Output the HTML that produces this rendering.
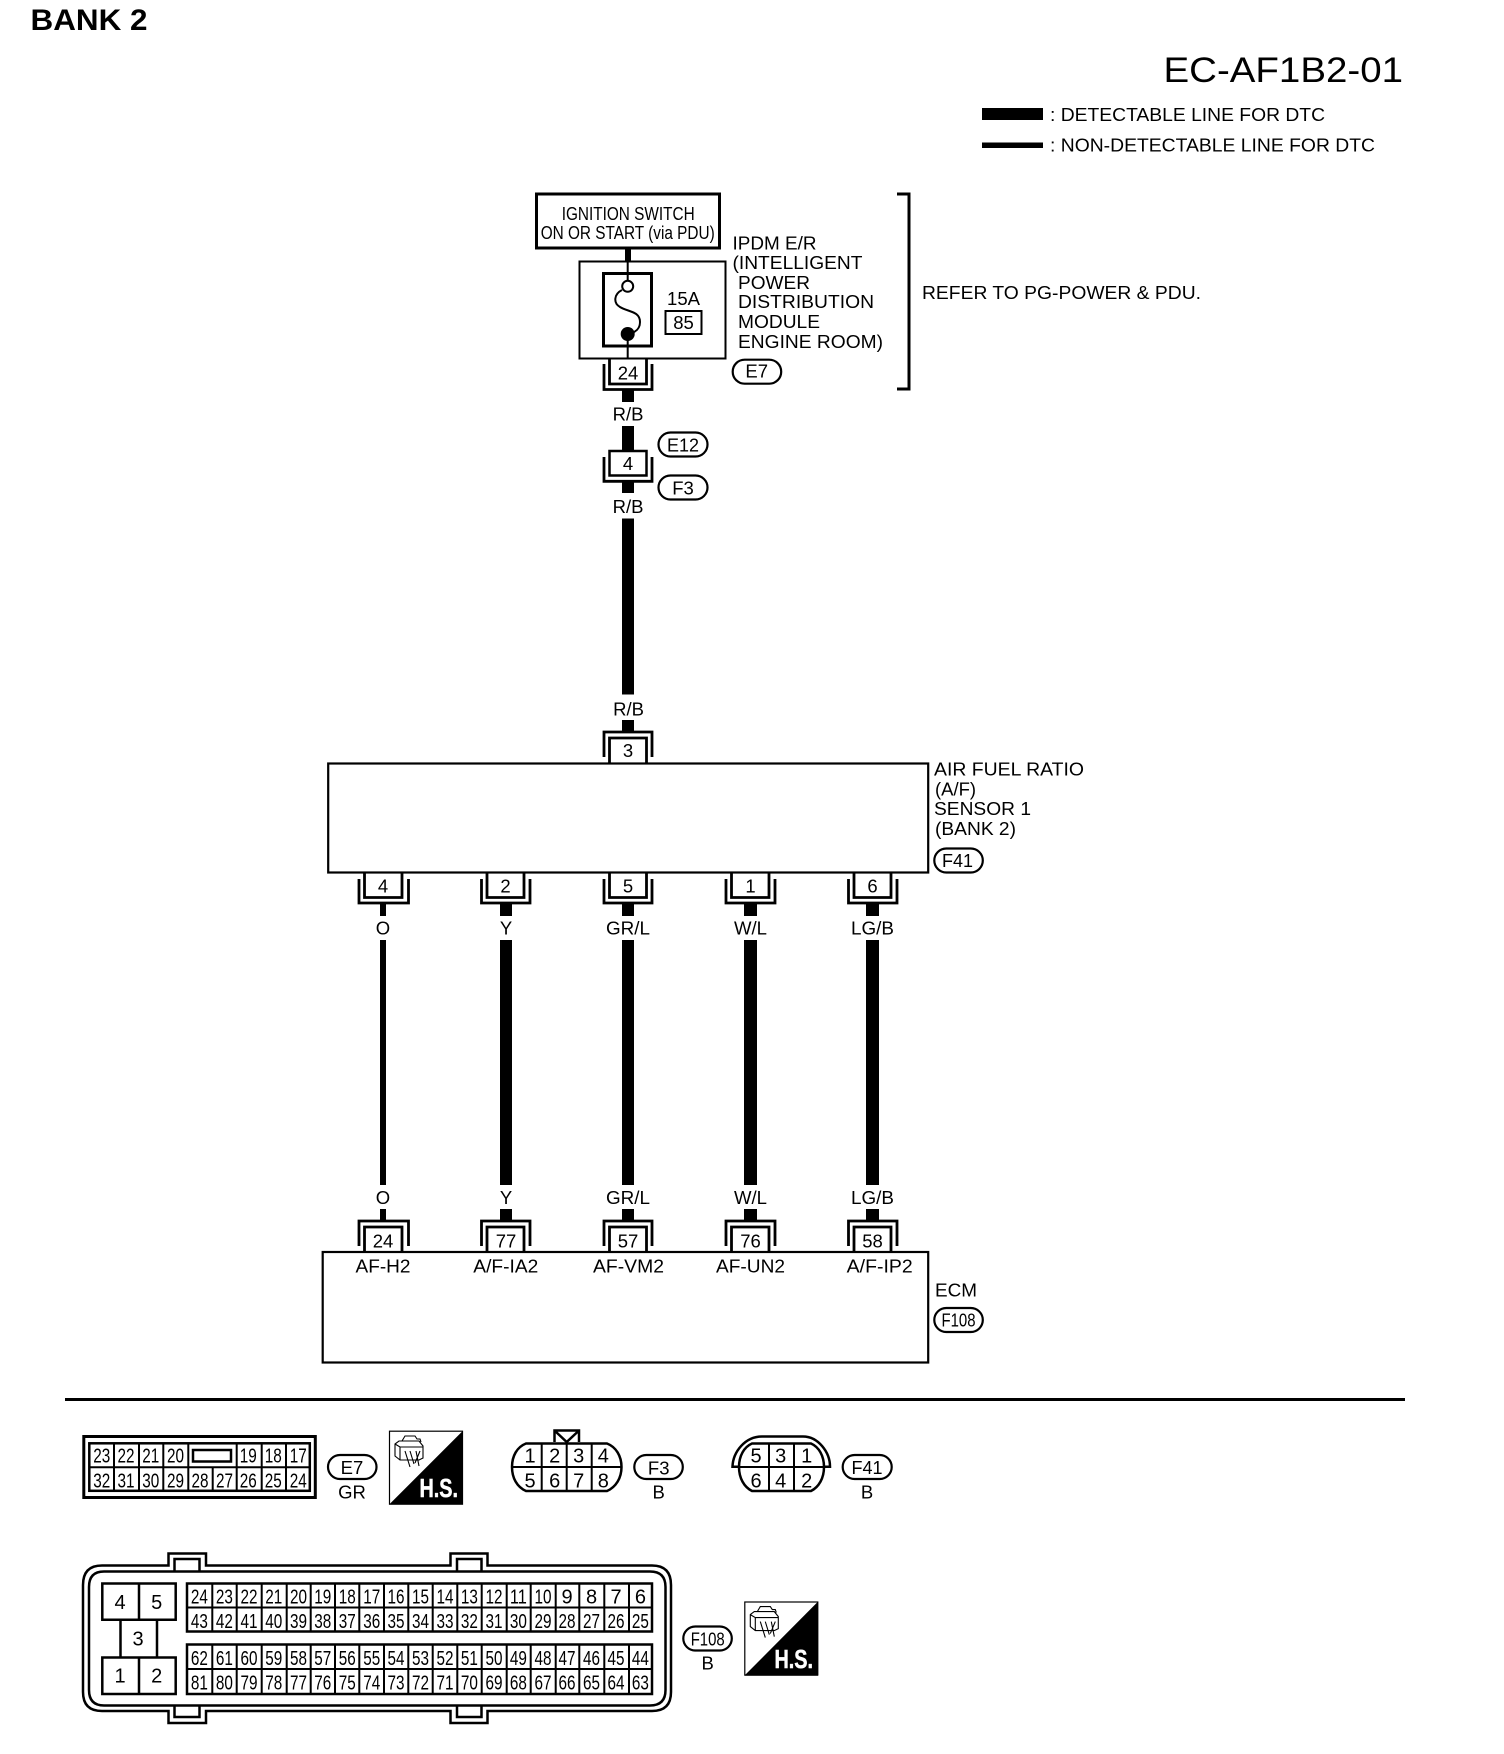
<!DOCTYPE html>
<html><head><meta charset="utf-8"><title>EC-AF1B2-01</title>
<style>
html,body{margin:0;padding:0;background:#fff}
svg{display:block}
text{font-family:"Liberation Sans",sans-serif;fill:#000;font-size:18.5px}
.m{text-anchor:middle}
.n text{font-size:20px;text-anchor:middle}
.l{fill:none;stroke:#000;stroke-width:2.5}
.c{fill:none;stroke:#000;stroke-width:2.8}
.t{fill:none;stroke:#000;stroke-width:2}
.p{fill:#fff;stroke:#000;stroke-width:2.2}
</style></head><body>
<svg xmlns="http://www.w3.org/2000/svg" width="1504" height="1754" viewBox="0 0 1504 1754">
<rect width="1504" height="1754" fill="#fff"/>
<text x="30.5" y="30" style="font-size:30px;font-weight:bold" textLength="117" lengthAdjust="spacingAndGlyphs">BANK 2</text>
<text x="1163.5" y="82" style="font-size:35px" textLength="239.5" lengthAdjust="spacingAndGlyphs">EC-AF1B2-01</text>
<rect x="982" y="108" width="61" height="12"/>
<rect x="982" y="142.5" width="61" height="5.5"/>
<text x="1050" y="121" textLength="275" lengthAdjust="spacingAndGlyphs">: DETECTABLE LINE FOR DTC</text>
<text x="1050" y="151.5" textLength="325" lengthAdjust="spacingAndGlyphs">: NON-DETECTABLE LINE FOR DTC</text>

<!-- top -->
<rect x="536.5" y="194" width="183" height="54" fill="#fff" stroke="#000" stroke-width="3"/>
<text x="561.7" y="220" textLength="133" lengthAdjust="spacingAndGlyphs">IGNITION SWITCH</text>
<text x="540.7" y="239" textLength="174" lengthAdjust="spacingAndGlyphs">ON OR START (via PDU)</text>
<rect x="625" y="249" width="6" height="12"/>
<rect x="579.5" y="261.5" width="146" height="97" class="t"/>
<rect x="603.5" y="273.5" width="48" height="72.5" class="l" style="stroke-width:3"/>
<path d="M627.7 261V281M627.7 334V359" class="t"/>
<circle cx="627.7" cy="286.3" r="5.5" fill="#fff" stroke="#000" stroke-width="2"/>
<path d="M622 290C614 294 613 303 620 307C628 312 640 311 640 322C640 328 637 331 632 333" class="t"/>
<circle cx="627.7" cy="334" r="7"/>
<text x="667" y="305" textLength="33" lengthAdjust="spacingAndGlyphs">15A</text>
<rect x="665.5" y="311" width="36" height="23" class="t"/>
<text class="m" x="683.5" y="329">85</text>
<text x="732.5" y="249.3" textLength="84" lengthAdjust="spacingAndGlyphs">IPDM E/R</text>
<text x="732.5" y="269" textLength="130" lengthAdjust="spacingAndGlyphs">(INTELLIGENT</text>
<text x="738" y="289" textLength="72" lengthAdjust="spacingAndGlyphs">POWER</text>
<text x="738" y="308" textLength="136" lengthAdjust="spacingAndGlyphs">DISTRIBUTION</text>
<text x="738" y="328" textLength="82" lengthAdjust="spacingAndGlyphs">MODULE</text>
<text x="738" y="348" textLength="145" lengthAdjust="spacingAndGlyphs">ENGINE ROOM)</text>
<path d="M897 194H909V389H897" fill="none" stroke="#000" stroke-width="3"/>
<text x="922" y="299" textLength="279" lengthAdjust="spacingAndGlyphs">REFER TO PG-POWER &amp; PDU.</text>
<rect x="732.7" y="359.7" width="48.5" height="24" rx="12" class="p"/>
<text class="m" x="756.7" y="377.5">E7</text>

<path d="M609.5 359V384H646.5V359M604 364V389.5H652V364" class="c"/>
<text class="m" x="628" y="379.3">24</text>
<rect x="622" y="390" width="12" height="12"/>
<text class="m" x="628" y="420.7">R/B</text>
<rect x="622" y="426" width="12" height="24"/>
<rect x="609.5" y="451" width="37" height="24.5" class="l"/>
<path d="M604 457V481.3H652V457" class="c"/>
<text class="m" x="628" y="470">4</text>
<rect x="658.5" y="432.5" width="49" height="24" rx="12" class="p"/>
<text class="m" x="683" y="451.5" textLength="32" lengthAdjust="spacingAndGlyphs">E12</text>
<rect x="658.5" y="475.5" width="49" height="24" rx="12" class="p"/>
<text class="m" x="683" y="494.3">F3</text>
<rect x="622" y="482" width="12" height="11"/>
<text class="m" x="628" y="513">R/B</text>
<rect x="622" y="518.5" width="12" height="176"/>
<text class="m" x="628.5" y="715.7">R/B</text>
<rect x="622" y="720" width="12" height="11"/>

<!-- sensor -->
<rect x="328.2" y="763.5" width="600" height="109" class="t" style="stroke-width:2.2"/>
<path d="M604 757V732H652V757M609.5 763V738H646.5V763" class="c"/>
<text class="m" x="628" y="757">3</text>
<text x="934" y="775.7" textLength="150" lengthAdjust="spacingAndGlyphs">AIR FUEL RATIO</text>
<text x="935" y="795.7" textLength="41" lengthAdjust="spacingAndGlyphs">(A/F)</text>
<text x="934" y="815" textLength="97" lengthAdjust="spacingAndGlyphs">SENSOR 1</text>
<text x="935" y="835" textLength="81" lengthAdjust="spacingAndGlyphs">(BANK 2)</text>
<rect x="934.3" y="848.5" width="48.5" height="24" rx="12" class="p"/>
<text class="m" x="957.5" y="867" textLength="31" lengthAdjust="spacingAndGlyphs">F41</text>

<!-- connectors below sensor -->
<path d="M364.5 873V897.5H402V873M359 879V903H408.5V879" class="c"/>
<path d="M487 873V897.5H524V873M481.5 879V903H530V879" class="c"/>
<path d="M609.5 873V897.5H646.5V873M604 879V903H652V879" class="c"/>
<path d="M731.5 873V897.5H769V873M726 879V903H775V879" class="c"/>
<path d="M854 873V897.5H891V873M848.5 879V903H897V879" class="c"/>
<text class="m" x="383" y="892.7">4</text>
<text class="m" x="505.5" y="892.7">2</text>
<text class="m" x="628" y="892.7">5</text>
<text class="m" x="750.5" y="892.7">1</text>
<text class="m" x="872.5" y="892.7">6</text>

<rect x="380" y="904" width="6" height="12"/>
<rect x="380" y="940" width="6" height="245"/>
<rect x="380" y="1209" width="6" height="12"/>
<rect x="500" y="904" width="12" height="12"/>
<rect x="500" y="940" width="12" height="245"/>
<rect x="500" y="1209" width="12" height="12"/>
<rect x="622" y="904" width="12" height="12"/>
<rect x="622" y="940" width="12" height="245"/>
<rect x="622" y="1209" width="12" height="12"/>
<rect x="744" y="904" width="13" height="12"/>
<rect x="744" y="940" width="13" height="245"/>
<rect x="744" y="1209" width="13" height="12"/>
<rect x="866" y="904" width="13" height="12"/>
<rect x="866" y="940" width="13" height="245"/>
<rect x="866" y="1209" width="13" height="12"/>

<text class="m" x="383" y="934.3">O</text>
<text class="m" x="506" y="934.3">Y</text>
<text class="m" x="628" y="934.3" textLength="44" lengthAdjust="spacingAndGlyphs">GR/L</text>
<text class="m" x="750.5" y="934.3" textLength="33" lengthAdjust="spacingAndGlyphs">W/L</text>
<text class="m" x="872.5" y="934.3" textLength="43" lengthAdjust="spacingAndGlyphs">LG/B</text>
<text class="m" x="383" y="1204">O</text>
<text class="m" x="506" y="1204">Y</text>
<text class="m" x="628" y="1204" textLength="44" lengthAdjust="spacingAndGlyphs">GR/L</text>
<text class="m" x="750.5" y="1204" textLength="33" lengthAdjust="spacingAndGlyphs">W/L</text>
<text class="m" x="872.5" y="1204" textLength="43" lengthAdjust="spacingAndGlyphs">LG/B</text>

<!-- ECM -->
<path d="M359 1246V1221H408.5V1246M364.5 1251V1227H402V1251" class="c"/>
<path d="M481.5 1246V1221H530V1246M487 1251V1227H524V1251" class="c"/>
<path d="M604 1246V1221H652V1246M609.5 1251V1227H646.5V1251" class="c"/>
<path d="M726 1246V1221H775V1246M731.5 1251V1227H769V1251" class="c"/>
<path d="M848.5 1246V1221H897V1246M854 1251V1227H891V1251" class="c"/>
<rect x="322.7" y="1252" width="605.5" height="110.5" class="t" style="stroke-width:2.2"/>
<text class="m" x="383" y="1247.3">24</text>
<text class="m" x="506" y="1247.3">77</text>
<text class="m" x="628" y="1247.3">57</text>
<text class="m" x="750.5" y="1247.3">76</text>
<text class="m" x="872.5" y="1247.3">58</text>
<text x="355.5" y="1272.7" textLength="55" lengthAdjust="spacingAndGlyphs">AF-H2</text>
<text x="473.3" y="1272.7" textLength="65" lengthAdjust="spacingAndGlyphs">A/F-IA2</text>
<text x="593" y="1272.7" textLength="71" lengthAdjust="spacingAndGlyphs">AF-VM2</text>
<text x="716" y="1272.7" textLength="69" lengthAdjust="spacingAndGlyphs">AF-UN2</text>
<text x="846.7" y="1272.7" textLength="66" lengthAdjust="spacingAndGlyphs">A/F-IP2</text>
<text x="935" y="1296.7" textLength="42" lengthAdjust="spacingAndGlyphs">ECM</text>
<rect x="934.3" y="1308" width="48.5" height="24" rx="12" class="p"/>
<text class="m" x="958.5" y="1326.7" textLength="34" lengthAdjust="spacingAndGlyphs">F108</text>

<rect x="65" y="1398" width="1340" height="3"/>

<!-- E7 connector -->
<rect x="83.8" y="1436.5" width="231.5" height="61" class="l" style="stroke-width:3"/>
<rect x="89.3" y="1443.3" width="220.5" height="47.5" class="l"/>
<path d="M89 1467.3H310M114 1443V1491M139 1443V1491M163.3 1443V1491M188.3 1443V1491M212.7 1467V1491M236.7 1467V1491M236.7 1443V1467M261.7 1443V1491M286 1443V1491" class="t"/>
<rect x="193" y="1450" width="38" height="11.5" class="l"/>
<g class="n">
<text x="101.7" y="1462.7" textLength="17" lengthAdjust="spacingAndGlyphs">23</text>
<text x="126" y="1462.7" textLength="17" lengthAdjust="spacingAndGlyphs">22</text>
<text x="150.7" y="1462.7" textLength="17" lengthAdjust="spacingAndGlyphs">21</text>
<text x="175.5" y="1462.7" textLength="17" lengthAdjust="spacingAndGlyphs">20</text>
<text x="248.3" y="1462.7" textLength="17" lengthAdjust="spacingAndGlyphs">19</text>
<text x="273.3" y="1462.7" textLength="17" lengthAdjust="spacingAndGlyphs">18</text>
<text x="298.3" y="1462.7" textLength="17" lengthAdjust="spacingAndGlyphs">17</text>
<text x="101.7" y="1487.3" textLength="17" lengthAdjust="spacingAndGlyphs">32</text>
<text x="126" y="1487.3" textLength="17" lengthAdjust="spacingAndGlyphs">31</text>
<text x="150.7" y="1487.3" textLength="17" lengthAdjust="spacingAndGlyphs">30</text>
<text x="175.5" y="1487.3" textLength="17" lengthAdjust="spacingAndGlyphs">29</text>
<text x="200" y="1487.3" textLength="17" lengthAdjust="spacingAndGlyphs">28</text>
<text x="224.5" y="1487.3" textLength="17" lengthAdjust="spacingAndGlyphs">27</text>
<text x="248.3" y="1487.3" textLength="17" lengthAdjust="spacingAndGlyphs">26</text>
<text x="273.3" y="1487.3" textLength="17" lengthAdjust="spacingAndGlyphs">25</text>
<text x="298.3" y="1487.3" textLength="17" lengthAdjust="spacingAndGlyphs">24</text>
</g>
<rect x="328" y="1455" width="48.5" height="24" rx="12" class="p"/>
<text class="m" x="352" y="1474">E7</text>
<text class="m" x="352" y="1498.7">GR</text>

<!-- HS 1 -->
<rect x="389.5" y="1431.2" width="73" height="73" fill="#fff" stroke="#000" stroke-width="1.2"/>
<path d="M462.7 1431V1504.5H389.2Z"/>
<g transform="translate(389,1431)" fill="none" stroke="#000" stroke-width="1.1"><path d="M6 13L10 10H30L34 15V27L30 29H11L6 25ZM6 13L11 16H34M11 16V29M13 10L16 5H26L28 8H31L32 11M16 20L21 36M21 20L25 33M27 20L30 35M31 20L26 32"/></g>
<text x="419.5" y="1497" style="font-size:26px;font-weight:bold;fill:#fff;stroke:#fff;stroke-width:.5" textLength="38.5" lengthAdjust="spacingAndGlyphs">H.S.</text>

<!-- F3 -->
<path d="M554.5 1442V1430.5H579V1442M554.5 1430.5L566.7 1442L579 1430.5" class="l"/>
<path d="M526 1443.5H607C616 1447 621.5 1456 621.5 1467C621.5 1478 616 1487 607 1491H526C517 1487 512 1478 512 1467C512 1456 517 1447 526 1443.5Z" class="l"/>
<path d="M512 1467H621.5M541.7 1443V1491M566.7 1443V1491M591.7 1443V1491" class="t"/>
<g class="n">
<text x="530" y="1462.7">1</text><text x="554.7" y="1462.7">2</text><text x="578.7" y="1462.7">3</text><text x="603.3" y="1462.7">4</text>
<text x="530" y="1487.3">5</text><text x="554.7" y="1487.3">6</text><text x="578.7" y="1487.3">7</text><text x="603.3" y="1487.3">8</text>
</g>
<rect x="634.3" y="1455" width="48.5" height="24" rx="12" class="p"/>
<text class="m" x="658.7" y="1474.3">F3</text>
<text class="m" x="658.7" y="1498.7">B</text>

<!-- F41 -->
<path d="M752 1443.5H811C819 1447 824 1456 824 1467C824 1478 819 1487 811 1491H752C744 1487 739 1478 739 1467C739 1456 744 1447 752 1443.5Z" class="l"/>
<path d="M739 1466.7H732.5C733 1452 745 1436.5 762 1436.5H803C818 1436.5 830 1452 830 1466.7H824" class="l"/>
<path d="M739 1467H824M769 1443V1491M794 1443V1491" class="t"/>
<g class="n">
<text x="756" y="1462.7">5</text><text x="780.7" y="1462.7">3</text><text x="806.7" y="1462.7">1</text>
<text x="756" y="1487.3">6</text><text x="780.7" y="1487.3">4</text><text x="806.7" y="1487.3">2</text>
</g>
<rect x="842.7" y="1455" width="49" height="24" rx="12" class="p"/>
<text class="m" x="867" y="1474" textLength="31" lengthAdjust="spacingAndGlyphs">F41</text>
<text class="m" x="867" y="1498.7">B</text>

<!-- ECM connector -->
<path d="M102 1565.5H168.5V1553.5H206V1565.5H450.5V1553.5H487.5V1565.5H652Q671 1565.5 671 1585V1692Q671 1711 652 1711H487.5V1723H450.5V1711H206V1723H168.5V1711H102Q83 1711 83 1692V1585Q83 1565.5 102 1565.5Z" class="l"/>
<path d="M104 1571.5H650Q665.5 1571.5 665.5 1587V1690Q665.5 1705.5 650 1705.5H104Q89 1705.5 89 1690V1587Q89 1571.5 104 1571.5Z" class="l"/>
<path d="M174.5 1571V1559H199.5V1571M457 1571V1559H481.5V1571M174.5 1706V1717H199.5V1706M457 1706V1717H481.5V1706" class="l"/>
<path d="M102.3 1583.5H175.7V1619.8H102.3ZM102.3 1657.5H175.7V1694H102.3ZM139 1583.5V1619.8M139 1657.5V1694M120.5 1620V1657.5M157 1620V1657.5" class="l"/>
<g class="n">
<text x="120" y="1609">4</text><text x="156.7" y="1609">5</text><text x="138" y="1645.7">3</text><text x="120" y="1682.7">1</text><text x="156.7" y="1682.7">2</text>
</g>
<rect x="187" y="1583.5" width="465" height="48" class="l"/>
<rect x="187" y="1644.5" width="465" height="49.5" class="l"/>
<path d="M187 1607.5H652M187 1669H652M212.3 1583V1632M236.7 1583V1632M261.7 1583V1632M286.7 1583V1632M310.7 1583V1632M335 1583V1632M359.3 1583V1632M384 1583V1632M408.3 1583V1632M432.7 1583V1632M457.3 1583V1632M481.7 1583V1632M506.7 1583V1632M530.7 1583V1632M555.7 1583V1632M579.3 1583V1632M604.3 1583V1632M629 1583V1632M212.3 1644V1694M236.7 1644V1694M261.7 1644V1694M286.7 1644V1694M310.7 1644V1694M335 1644V1694M359.3 1644V1694M384 1644V1694M408.3 1644V1694M432.7 1644V1694M457.3 1644V1694M481.7 1644V1694M506.7 1644V1694M530.7 1644V1694M555.7 1644V1694M579.3 1644V1694M604.3 1644V1694M629 1644V1694" class="t"/>
<g class="n">
<text x="199.4" y="1603.3" textLength="17" lengthAdjust="spacingAndGlyphs">24</text>
<text x="224.4" y="1603.3" textLength="17" lengthAdjust="spacingAndGlyphs">23</text>
<text x="249" y="1603.3" textLength="17" lengthAdjust="spacingAndGlyphs">22</text>
<text x="273.8" y="1603.3" textLength="17" lengthAdjust="spacingAndGlyphs">21</text>
<text x="298.5" y="1603.3" textLength="17" lengthAdjust="spacingAndGlyphs">20</text>
<text x="322.8" y="1603.3" textLength="17" lengthAdjust="spacingAndGlyphs">19</text>
<text x="347.2" y="1603.3" textLength="17" lengthAdjust="spacingAndGlyphs">18</text>
<text x="371.7" y="1603.3" textLength="17" lengthAdjust="spacingAndGlyphs">17</text>
<text x="396" y="1603.3" textLength="17" lengthAdjust="spacingAndGlyphs">16</text>
<text x="420.5" y="1603.3" textLength="17" lengthAdjust="spacingAndGlyphs">15</text>
<text x="445" y="1603.3" textLength="17" lengthAdjust="spacingAndGlyphs">14</text>
<text x="469.4" y="1603.3" textLength="17" lengthAdjust="spacingAndGlyphs">13</text>
<text x="494" y="1603.3" textLength="17" lengthAdjust="spacingAndGlyphs">12</text>
<text x="518.4" y="1603.3" textLength="17" lengthAdjust="spacingAndGlyphs">11</text>
<text x="543" y="1603.3" textLength="17" lengthAdjust="spacingAndGlyphs">10</text>
<text x="567" y="1603.3">9</text>
<text x="591.5" y="1603.3">8</text>
<text x="616" y="1603.3">7</text>
<text x="640.4" y="1603.3">6</text>
<text x="199.4" y="1628" textLength="17" lengthAdjust="spacingAndGlyphs">43</text>
<text x="224.4" y="1628" textLength="17" lengthAdjust="spacingAndGlyphs">42</text>
<text x="249" y="1628" textLength="17" lengthAdjust="spacingAndGlyphs">41</text>
<text x="273.8" y="1628" textLength="17" lengthAdjust="spacingAndGlyphs">40</text>
<text x="298.5" y="1628" textLength="17" lengthAdjust="spacingAndGlyphs">39</text>
<text x="322.8" y="1628" textLength="17" lengthAdjust="spacingAndGlyphs">38</text>
<text x="347.2" y="1628" textLength="17" lengthAdjust="spacingAndGlyphs">37</text>
<text x="371.7" y="1628" textLength="17" lengthAdjust="spacingAndGlyphs">36</text>
<text x="396" y="1628" textLength="17" lengthAdjust="spacingAndGlyphs">35</text>
<text x="420.5" y="1628" textLength="17" lengthAdjust="spacingAndGlyphs">34</text>
<text x="445" y="1628" textLength="17" lengthAdjust="spacingAndGlyphs">33</text>
<text x="469.4" y="1628" textLength="17" lengthAdjust="spacingAndGlyphs">32</text>
<text x="494" y="1628" textLength="17" lengthAdjust="spacingAndGlyphs">31</text>
<text x="518.4" y="1628" textLength="17" lengthAdjust="spacingAndGlyphs">30</text>
<text x="543" y="1628" textLength="17" lengthAdjust="spacingAndGlyphs">29</text>
<text x="567" y="1628" textLength="17" lengthAdjust="spacingAndGlyphs">28</text>
<text x="591.5" y="1628" textLength="17" lengthAdjust="spacingAndGlyphs">27</text>
<text x="616" y="1628" textLength="17" lengthAdjust="spacingAndGlyphs">26</text>
<text x="640.4" y="1628" textLength="17" lengthAdjust="spacingAndGlyphs">25</text>
<text x="199.4" y="1665" textLength="17" lengthAdjust="spacingAndGlyphs">62</text>
<text x="224.4" y="1665" textLength="17" lengthAdjust="spacingAndGlyphs">61</text>
<text x="249" y="1665" textLength="17" lengthAdjust="spacingAndGlyphs">60</text>
<text x="273.8" y="1665" textLength="17" lengthAdjust="spacingAndGlyphs">59</text>
<text x="298.5" y="1665" textLength="17" lengthAdjust="spacingAndGlyphs">58</text>
<text x="322.8" y="1665" textLength="17" lengthAdjust="spacingAndGlyphs">57</text>
<text x="347.2" y="1665" textLength="17" lengthAdjust="spacingAndGlyphs">56</text>
<text x="371.7" y="1665" textLength="17" lengthAdjust="spacingAndGlyphs">55</text>
<text x="396" y="1665" textLength="17" lengthAdjust="spacingAndGlyphs">54</text>
<text x="420.5" y="1665" textLength="17" lengthAdjust="spacingAndGlyphs">53</text>
<text x="445" y="1665" textLength="17" lengthAdjust="spacingAndGlyphs">52</text>
<text x="469.4" y="1665" textLength="17" lengthAdjust="spacingAndGlyphs">51</text>
<text x="494" y="1665" textLength="17" lengthAdjust="spacingAndGlyphs">50</text>
<text x="518.4" y="1665" textLength="17" lengthAdjust="spacingAndGlyphs">49</text>
<text x="543" y="1665" textLength="17" lengthAdjust="spacingAndGlyphs">48</text>
<text x="567" y="1665" textLength="17" lengthAdjust="spacingAndGlyphs">47</text>
<text x="591.5" y="1665" textLength="17" lengthAdjust="spacingAndGlyphs">46</text>
<text x="616" y="1665" textLength="17" lengthAdjust="spacingAndGlyphs">45</text>
<text x="640.4" y="1665" textLength="17" lengthAdjust="spacingAndGlyphs">44</text>
<text x="199.4" y="1689.3" textLength="17" lengthAdjust="spacingAndGlyphs">81</text>
<text x="224.4" y="1689.3" textLength="17" lengthAdjust="spacingAndGlyphs">80</text>
<text x="249" y="1689.3" textLength="17" lengthAdjust="spacingAndGlyphs">79</text>
<text x="273.8" y="1689.3" textLength="17" lengthAdjust="spacingAndGlyphs">78</text>
<text x="298.5" y="1689.3" textLength="17" lengthAdjust="spacingAndGlyphs">77</text>
<text x="322.8" y="1689.3" textLength="17" lengthAdjust="spacingAndGlyphs">76</text>
<text x="347.2" y="1689.3" textLength="17" lengthAdjust="spacingAndGlyphs">75</text>
<text x="371.7" y="1689.3" textLength="17" lengthAdjust="spacingAndGlyphs">74</text>
<text x="396" y="1689.3" textLength="17" lengthAdjust="spacingAndGlyphs">73</text>
<text x="420.5" y="1689.3" textLength="17" lengthAdjust="spacingAndGlyphs">72</text>
<text x="445" y="1689.3" textLength="17" lengthAdjust="spacingAndGlyphs">71</text>
<text x="469.4" y="1689.3" textLength="17" lengthAdjust="spacingAndGlyphs">70</text>
<text x="494" y="1689.3" textLength="17" lengthAdjust="spacingAndGlyphs">69</text>
<text x="518.4" y="1689.3" textLength="17" lengthAdjust="spacingAndGlyphs">68</text>
<text x="543" y="1689.3" textLength="17" lengthAdjust="spacingAndGlyphs">67</text>
<text x="567" y="1689.3" textLength="17" lengthAdjust="spacingAndGlyphs">66</text>
<text x="591.5" y="1689.3" textLength="17" lengthAdjust="spacingAndGlyphs">65</text>
<text x="616" y="1689.3" textLength="17" lengthAdjust="spacingAndGlyphs">64</text>
<text x="640.4" y="1689.3" textLength="17" lengthAdjust="spacingAndGlyphs">63</text>
</g>
<rect x="683.3" y="1626.5" width="48.5" height="24" rx="12" class="p"/>
<text class="m" x="707.7" y="1645.7" textLength="34" lengthAdjust="spacingAndGlyphs">F108</text>
<text class="m" x="707.7" y="1669.3">B</text>

<!-- HS 2 -->
<rect x="744.8" y="1602" width="73" height="73" fill="#fff" stroke="#000" stroke-width="1.2"/>
<path d="M818 1601.6V1675.8H744.3Z"/>
<g transform="translate(744.3,1601.6)" fill="none" stroke="#000" stroke-width="1.1"><path d="M6 13L10 10H30L34 15V27L30 29H11L6 25ZM6 13L11 16H34M11 16V29M13 10L16 5H26L28 8H31L32 11M16 20L21 36M21 20L25 33M27 20L30 35M31 20L26 32"/></g>
<text x="774.5" y="1668" style="font-size:26px;font-weight:bold;fill:#fff;stroke:#fff;stroke-width:.5" textLength="38.5" lengthAdjust="spacingAndGlyphs">H.S.</text>
</svg>
</body></html>
